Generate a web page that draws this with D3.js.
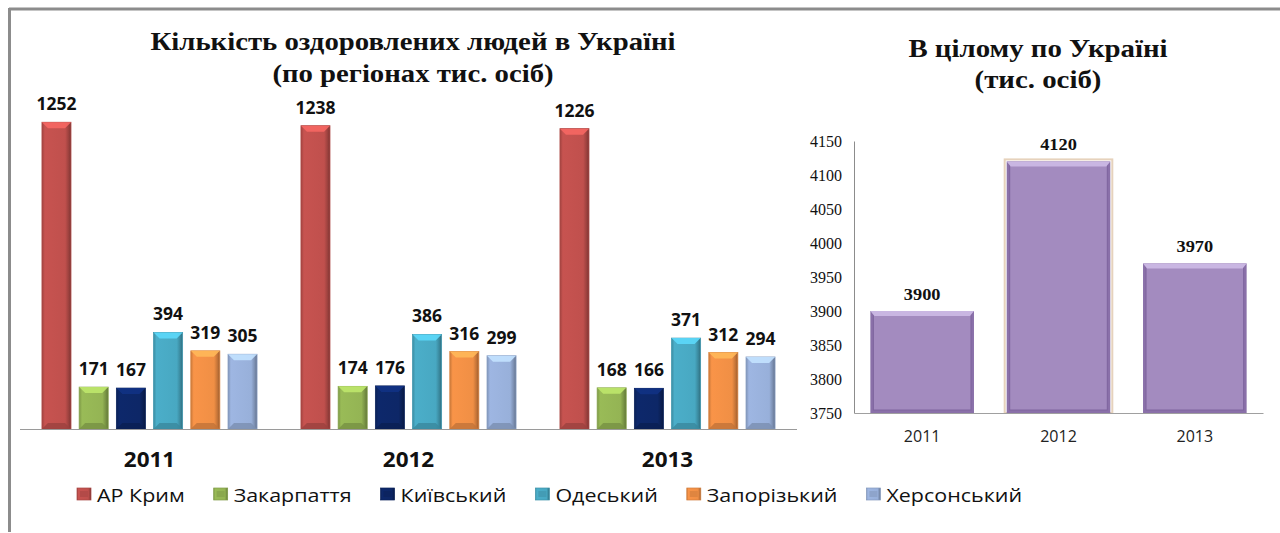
<!DOCTYPE html>
<html><head><meta charset="utf-8">
<script src="https://cdn.jsdelivr.net/npm/d3@7"></script>
<style>html,body{margin:0;padding:0;background:#fff;}svg{display:block;}</style>
</head><body>
<svg id="c" width="1280" height="533"></svg>
<script>
// ---- data ----
const years = ["2011", "2012", "2013"];
const regions = ["АР Крим", "Закарпаття", "Київський", "Одеський", "Запорізький", "Херсонський"];
const values2011 = [1252, 171, 167, 394, 319, 305];
const values2012 = [1238, 174, 176, 386, 316, 299];
const values2013 = [1226, 168, 166, 371, 312, 294];
const regionColors = ["#C0504D", "#94B454", "#0D2767", "#48A8C2", "#F08F45", "#98B0DA"];
const totalYears = ["2011", "2012", "2013"];
const totalValues = [3900, 4120, 3970];
const totalTicks = [3750, 3800, 3850, 3900, 3950, 4000, 4050, 4100, 4150];
const title1 = ["Кількість оздоровлених людей в Україні", "(по регіонах тис. осіб)"];
const title2 = ["В цілому по Україні", "(тис. осіб)"];

const seriesByYear = [values2011, values2012, values2013];

const svg = d3.select("#c");
const defs = svg.append("defs");

// frame
svg.append("line").attr("x1", 9).attr("x2", 1280).attr("y1", 9).attr("y2", 9)
  .attr("stroke", "#8c8c8c").attr("stroke-width", 3);
svg.append("line").attr("x1", 9.5).attr("x2", 9.5).attr("y1", 8).attr("y2", 532)
  .attr("stroke", "#8c8c8c").attr("stroke-width", 3);

function makeGrad(id, color) {
  const c = d3.color(color);
  const g = defs.append("linearGradient").attr("id", id).attr("x1", "0").attr("x2", "1").attr("y1", "0").attr("y2", "0");
  g.append("stop").attr("offset", "0%").attr("stop-color", c.darker(0.5));
  g.append("stop").attr("offset", "10%").attr("stop-color", c.brighter(0.1));
  g.append("stop").attr("offset", "80%").attr("stop-color", c);
  g.append("stop").attr("offset", "92%").attr("stop-color", c.darker(0.6));
  g.append("stop").attr("offset", "100%").attr("stop-color", c.darker(1.2));
}

function bevelBar(g, x0, w, yTop, yBot, color, gradId, b) {
  const x1 = x0 + w;
  g.append("rect").attr("x", x0).attr("y", yTop).attr("width", w).attr("height", yBot - yTop)
    .attr("fill", `url(#${gradId})`).attr("stroke", d3.color(color).darker(0.3)).attr("stroke-width", 0.8);
  g.append("polygon")
    .attr("points", [[x0, yTop], [x1, yTop], [x1 - b, yTop + b], [x0 + b, yTop + b]].map(p => p.join(",")).join(" "))
    .attr("fill", d3.color(color).brighter(0.7)).attr("opacity", 0.9);
  g.append("polygon")
    .attr("points", [[x0, yBot], [x1, yBot], [x1 - b, yBot - b], [x0 + b, yBot - b]].map(p => p.join(",")).join(" "))
    .attr("fill", d3.color(color).darker(0.6)).attr("opacity", 0.8);
}

// horizontally stretched text helper
function stext(g, x, y, str, sx, anchor) {
  return g.append("text").attr("transform", `translate(${x},${y}) scale(${sx},1)`)
    .attr("text-anchor", anchor || "middle").text(str);
}

regions.forEach((r, i) => makeGrad("g" + i, regionColors[i]));

// ---- left chart ----
const left = svg.append("g");
const x0 = d3.scaleBand().domain(years).range([20, 797]).padding(0);
const x1 = d3.scaleBand().domain(regions).range([0, x0.bandwidth()]).paddingInner(0.22).paddingOuter(0.59);
const yL = d3.scaleLinear().domain([0, 1400]).range([429, 86]);

years.forEach((yr, yi) => {
  const gg = left.append("g");
  regions.forEach((r, ri) => {
    const v = seriesByYear[yi][ri];
    const bx = x0(yr) + x1(r);
    bevelBar(gg, bx, x1.bandwidth(), yL(v), yL(0), regionColors[ri], "g" + ri, 6);
    stext(gg, bx + x1.bandwidth() / 2, yL(v) - 12, v, 1.03)
      .attr("font-family", "'Open Sans', sans-serif")
      .attr("font-weight", "bold").attr("font-size", 17).attr("fill", "#111");
  });
});
left.append("line").attr("x1", 20).attr("x2", 797).attr("y1", yL(0) + 0.5).attr("y2", yL(0) + 0.5)
  .attr("stroke", "#9a9a9a").attr("stroke-width", 1);
years.forEach(yr => {
  stext(left, x0(yr) + x0.bandwidth() / 2, 467, yr, 1.07)
    .attr("font-family", "'Open Sans', sans-serif")
    .attr("font-weight", "bold").attr("font-size", 21).attr("fill", "#111");
});

// titles
title1.forEach((t, i) => {
  stext(svg, 413, 50 + i * 32, t, 1.15)
    .attr("font-family", "'Liberation Serif', 'Times New Roman', serif").attr("font-weight", "bold")
    .attr("font-size", 25).attr("fill", "#111");
});
title2.forEach((t, i) => {
  stext(svg, 1038, 57 + i * 31, t, 1.11)
    .attr("font-family", "'Liberation Serif', 'Times New Roman', serif").attr("font-weight", "bold")
    .attr("font-size", 26).attr("fill", "#111");
});

// legend
const leg = svg.append("g");
const legStretch = 1.13;
let lx = 77;
regions.forEach((r, i) => {
  const c = d3.color(regionColors[i]);
  leg.append("rect").attr("x", lx).attr("y", 488).attr("width", 14).attr("height", 12)
    .attr("fill", `url(#g${i})`).attr("stroke", c.darker(0.4)).attr("stroke-width", 0.7);
  leg.append("rect").attr("x", lx + 3).attr("y", 491).attr("width", 8).attr("height", 6).attr("fill", c.darker(0.2));
  const t = stext(leg, lx + 20, 502, r, legStretch, "start")
    .attr("font-family", "'Open Sans', sans-serif").attr("font-size", 19).attr("fill", "#111");
  lx += 20 + t.node().getComputedTextLength() * legStretch + 29;
});

// ---- right chart ----
const right = svg.append("g");
const xR = d3.scaleBand().domain(totalYears).range([854, 1263]).paddingInner(0.24).paddingOuter(0.12);
const yR = d3.scaleLinear().domain([3750, 4150]).range([413, 141]);
const purple = "#A38BBF";

totalYears.forEach((yr, i) => {
  const v = totalValues[i];
  const bx = xR(yr);
  if (i === 1) {
    right.append("rect").attr("x", bx - 2).attr("y", yR(v) - 2).attr("width", xR.bandwidth() + 4)
      .attr("height", yR(3750) - yR(v) + 2).attr("fill", "none").attr("stroke", "#e6d2bc").attr("stroke-width", 2);
  }
  right.append("rect").attr("x", bx).attr("y", yR(v)).attr("width", xR.bandwidth()).attr("height", yR(3750) - yR(v))
    .attr("fill", "#8a70a9");
  right.append("rect").attr("x", bx + 3).attr("y", yR(v) + 3).attr("width", xR.bandwidth() - 6).attr("height", yR(3750) - yR(v) - 6)
    .attr("fill", purple).attr("stroke", "#7e649e").attr("stroke-width", 1);
  right.append("polygon")
    .attr("points", [[bx, yR(v)], [bx + xR.bandwidth(), yR(v)], [bx + xR.bandwidth() - 4, yR(v) + 5], [bx + 4, yR(v) + 5]].map(p => p.join(",")).join(" "))
    .attr("fill", "#C9B6E2");
  stext(right, bx + xR.bandwidth() / 2, yR(v) - 11, v, 1.08)
    .attr("font-family", "'Liberation Serif', 'Times New Roman', serif").attr("font-weight", "bold")
    .attr("font-size", 17).attr("fill", "#111");
});

const yAxis = d3.axisLeft(yR).tickValues(totalTicks).tickSize(0).tickPadding(12).tickFormat(d3.format("d"));
const ya = right.append("g").attr("transform", "translate(854,0)").call(yAxis);
ya.select(".domain").attr("stroke", "#8c8c8c");
ya.selectAll("text").attr("font-family", "'Liberation Serif', 'Times New Roman', serif").attr("font-size", 16).attr("fill", "#111");

const xAxis = d3.axisBottom(xR).tickSize(0).tickPadding(18);
const xa = right.append("g").attr("transform", `translate(0,${yR(3750)})`).call(xAxis);
xa.select(".domain").attr("stroke", "#a0a0a0");
xa.selectAll("text").attr("font-family", "'Open Sans', sans-serif").attr("font-size", 16).attr("fill", "#222");
</script>
</body></html>
